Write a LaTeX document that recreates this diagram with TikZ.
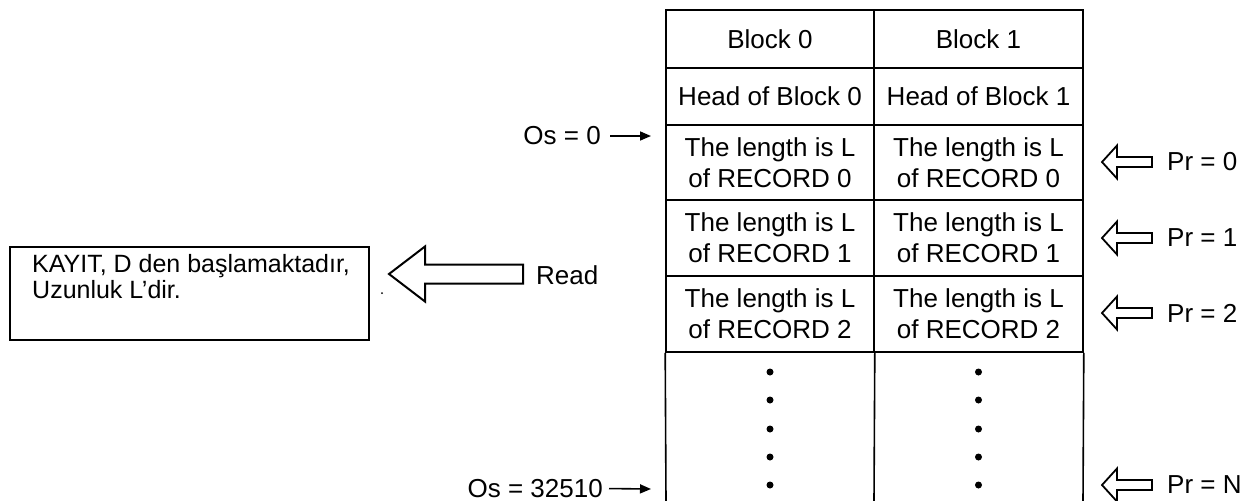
\documentclass[tikz,border=0pt]{standalone}
\usepackage{fontspec}
\setmainfont{Liberation Sans}
\usetikzlibrary{arrows.meta}
\begin{document}
\begin{tikzpicture}[x=1pt,y=-1pt,
  cell/.style={draw=black, line width=1.6pt, inner sep=0pt, align=center,
    font=\fontsize{26}{31}\selectfont},
  lab/.style={inner sep=0pt, font=\fontsize{26}{31}\selectfont},
  osarrow/.style={line width=1.6pt, -{Triangle[length=11pt,width=9pt]}},
  hollow/.style={draw=black, line width=1.8pt, line join=miter, fill=white},
  dotmark/.style={circle, fill=black, inner sep=0pt, minimum size=7pt},
  prarrow/.pic={\draw[hollow] (0,0) -- (15,-16.5) -- (15,-5) -- (50,-5) -- (50,5) -- (15,5) -- (15,16.5) -- cycle;}
]
\useasboundingbox (0,0) rectangle (1254,501);

% table cells
\node[cell, minimum width=208pt, minimum height=58pt] (b0) at (770,39) {Block 0};
\node[cell, minimum width=209pt, minimum height=58pt] (b1) at (978.5,39) {Block 1};
\node[cell, minimum width=208pt, minimum height=57pt] (h0) at (770,96.5) {Head of Block 0};
\node[cell, minimum width=209pt, minimum height=57pt] (h1) at (978.5,96.5) {Head of Block 1};
\node[cell, minimum width=208pt, minimum height=75pt] (r00) at (770,162.5) {The length is L\\of RECORD 0};
\node[cell, minimum width=209pt, minimum height=75pt] (r10) at (978.5,162.5) {The length is L\\of RECORD 0};
\node[cell, minimum width=208pt, minimum height=76pt] (r01) at (770,238) {The length is L\\of RECORD 1};
\node[cell, minimum width=209pt, minimum height=76pt] (r11) at (978.5,238) {The length is L\\of RECORD 1};
\node[cell, minimum width=208pt, minimum height=76pt] (r02) at (770,314) {The length is L\\of RECORD 2};
\node[cell, minimum width=209pt, minimum height=76pt] (r12) at (978.5,314) {The length is L\\of RECORD 2};

% open last row
\draw[line width=1.6pt] (r02.south west) -- (666,501);
\draw[line width=1.6pt] (r02.south east) -- (874,501);
\draw[line width=1.6pt] (r12.south east) -- (1083,501);

% dots
\foreach \y [count=\i] in {372,400,429,457,485} {
  \node[dotmark] (da\i) at (770,\y) {};
  \node[dotmark] (db\i) at (978.5,\y) {};
}

% Os labels and arrows
\node[lab, anchor=east] (os0) at (601,136) {Os = 0};
\coordinate (os0tip) at (651,136);
\draw[osarrow, shorten <=9pt] (os0.east) -- (os0tip);
\node[lab, anchor=east] (osN) at (603,488.5) {Os = 32510};
\coordinate (osNtip) at (651,489);
\draw[osarrow, shorten <=6pt] (osN.east) -- (osNtip);

% Pr arrows and labels
\foreach \y/\t/\n in {162/0/a, 238/1/b, 313/2/c, 485/N/d} {
  \pic at (1102,\y) {prarrow};
  \node[lab, anchor=west] (pr\n) at (1167,\y) {Pr = \t};
}

% Read arrow
\draw[hollow, line width=2pt] (389,274) -- (425,246.5) -- (425,264.5) -- (523,264.5)
  -- (523,283.5) -- (425,283.5) -- (425,301.5) -- cycle;
\node[lab, anchor=west] (read) at (536,275) {Read};
\fill (382,293) circle (1pt);

% result box
\node[draw=black, line width=2.4pt, anchor=north west, minimum width=359pt,
  minimum height=93pt, inner sep=0pt] (box) at (9,246) {};
\node[inner sep=0pt, anchor=north west, align=left,
  font=\fontsize{25}{25.5}\selectfont] (boxtxt) at (32,254.5)
  {KAYIT, D den başlamaktadır,\\Uzunluk L’dir.};
\end{tikzpicture}
\end{document}
